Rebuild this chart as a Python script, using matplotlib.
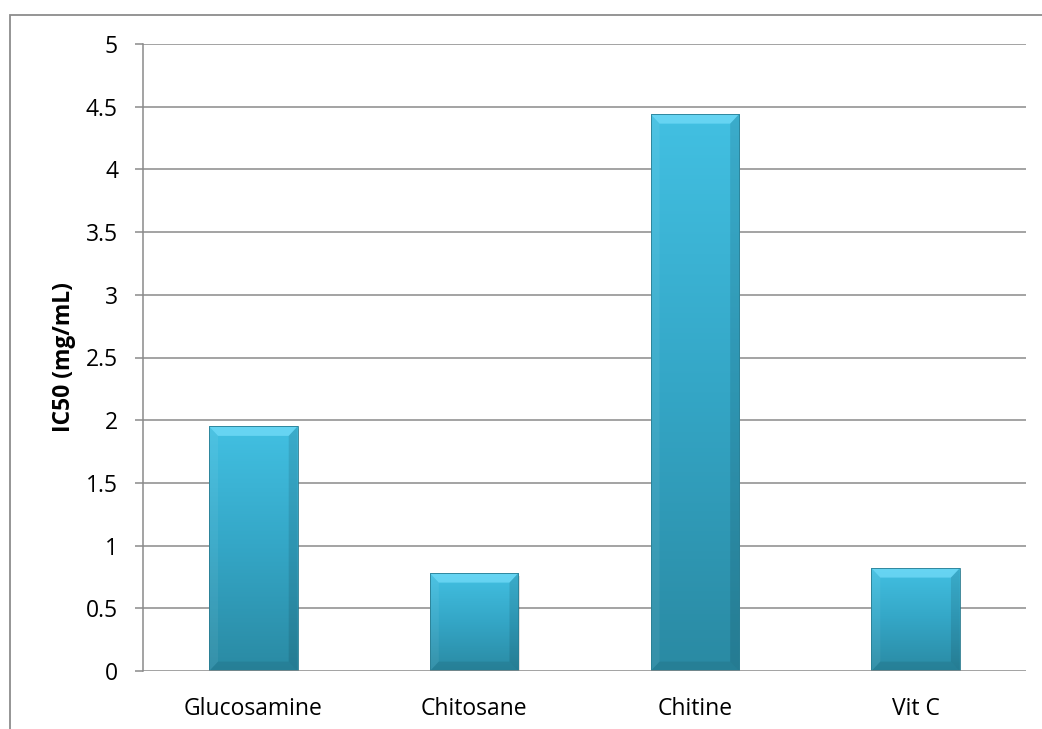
import matplotlib
matplotlib.use("Agg")
import matplotlib.pyplot as plt
import numpy as np
from matplotlib.patches import Rectangle, Polygon
from matplotlib.colors import LinearSegmentedColormap

categories = ["Glucosamine", "Chitosane", "Chitine", "Vit C"]
values = [1.95, 0.78, 4.44, 0.82]
yticks = [0, 0.5, 1, 1.5, 2, 2.5, 3, 3.5, 4, 4.5, 5]
ytick_labels = ["0", "0.5", "1", "1.5", "2", "2.5", "3", "3.5", "4", "4.5", "5"]
ylabel = "IC50 (mg/mL)"

plt.rcParams['font.family'] = ['Open Sans', 'DejaVu Sans']

fig = plt.figure(figsize=(10.42, 7.29), dpi=100)
# outer chart frame
fig.patches.append(Rectangle((10/1042, -0.1), 1.2, (729-15)/729 + 0.1,
                             transform=fig.transFigure, fill=False,
                             edgecolor="#8c8c8c", linewidth=1.3))
ax = fig.add_axes([143/1042, 58/729, (1026-143)/1042, (671-44)/729])

grid_color = "#8a8a8a"
x = np.arange(len(categories))
width = 0.4
ax.set_xlim(-0.5, len(categories) - 0.5)
ax.set_ylim(0, 5)

for t in yticks[1:]:
    ax.axhline(t, color=grid_color, linewidth=1.1, zorder=0)

cmap = LinearSegmentedColormap.from_list("bar", ["#2a8aa3", "#34a6c6", "#42c0e2"])
grad = np.linspace(0, 1, 256).reshape(-1, 1)

bx = width * 0.10          # bevel size in data x
by = 0.075                 # bevel size in data y
for xi, v in zip(x, values):
    x0, x1 = xi - width/2, xi + width/2
    # shadow
    ax.add_patch(Rectangle((x0 + 0.006, -0.02), width, v, facecolor="#000000",
                           alpha=0.12, edgecolor="none", zorder=1))
    rect = Rectangle((x0, 0), width, v, facecolor="none", edgecolor="none", zorder=2)
    ax.add_patch(rect)
    im = ax.imshow(grad, extent=(x0, x1, 0, v), origin="lower", cmap=cmap,
                   aspect="auto", zorder=2, interpolation="bilinear")
    im.set_clip_path(rect)
    # bevels
    ax.add_patch(Polygon([(x0, v), (x1, v), (x1 - bx, v - by), (x0 + bx, v - by)],
                         closed=True, facecolor="#7fe3ff", alpha=0.6,
                         edgecolor="none", zorder=3))
    ax.add_patch(Polygon([(x0, 0), (x0, v), (x0 + bx, v - by), (x0 + bx, by)],
                         closed=True, facecolor="#ffffff", alpha=0.06,
                         edgecolor="none", zorder=3))
    ax.add_patch(Polygon([(x1, 0), (x1, v), (x1 - bx, v - by), (x1 - bx, by)],
                         closed=True, facecolor="#000000", alpha=0.10,
                         edgecolor="none", zorder=3))
    ax.add_patch(Polygon([(x0, 0), (x1, 0), (x1 - bx, by), (x0 + bx, by)],
                         closed=True, facecolor="#000000", alpha=0.08,
                         edgecolor="none", zorder=3))
    ax.add_patch(Rectangle((x0, 0), width, v, facecolor="none",
                           edgecolor="#2a7d92", linewidth=0.6, zorder=4))

ax.axhline(0, color=grid_color, linewidth=1.1, zorder=5)
ax.set_yticks(yticks)
ax.set_yticklabels(ytick_labels, fontsize=16.5)
ax.set_xticks(x)
ax.set_xticklabels(categories, fontsize=16.5)
ax.tick_params(axis="y", length=6, width=1.1, color=grid_color, pad=12)
ax.tick_params(axis="x", length=0, pad=19)
for s in ["top", "right", "bottom"]:
    ax.spines[s].set_visible(False)
ax.spines["left"].set_color(grid_color)
ax.spines["left"].set_linewidth(1.1)
ax.set_ylabel(ylabel, fontsize=16.5, fontweight="bold", labelpad=7)

fig.savefig("out.png", dpi=100)
